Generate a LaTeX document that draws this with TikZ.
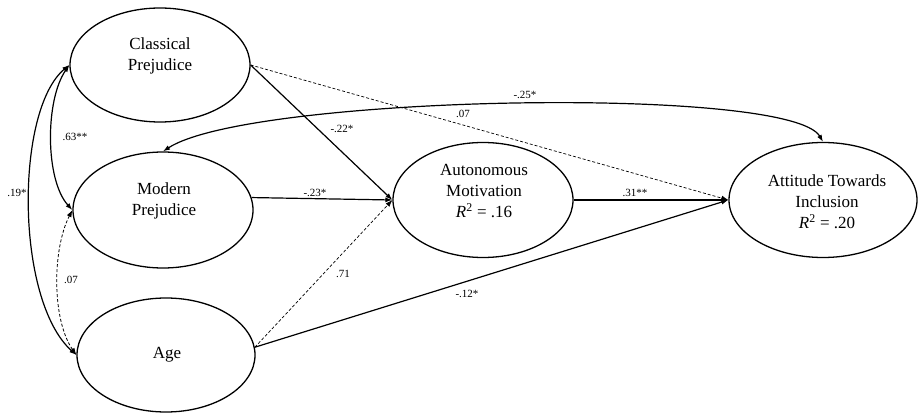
\documentclass[tikz,border=0pt]{standalone}
\usepackage{fontspec}
\setmainfont{Liberation Serif}
\usetikzlibrary{shapes.geometric,arrows.meta}
\begin{document}
\begin{tikzpicture}[x=1pt,y=-1pt,
  lat/.style={draw, ellipse, line width=1.3pt, inner sep=0pt},
  ttl/.style={font=\fontsize{17}{21}\selectfont, align=center, inner sep=0pt},
  coef/.style={font=\fontsize{11}{13}\selectfont, inner sep=0pt},
  tip/.tip={Latex[length=7pt,width=5pt]},
  pathsolid/.style={line width=1.2pt, -tip},
  pathdash/.style={line width=0.7pt, dash pattern=on 3pt off 2pt, -tip},
  covsolid/.style={line width=1.2pt, tip-tip},
  covdash/.style={line width=0.8pt, dash pattern=on 3pt off 2pt, tip-tip}]
\useasboundingbox (0,0) rectangle (918,414);
\fill[white] (0,0) rectangle (918,414);

% latent ellipses
\node[lat, minimum width=180pt, minimum height=114pt] (cp) at (160,65) {};
\node[lat, minimum width=180pt, minimum height=116pt] (mp) at (163,210) {};
\node[lat, minimum width=178pt, minimum height=114pt] (age) at (166,355) {};
\node[lat, minimum width=180pt, minimum height=115pt] (am) at (483,200) {};
\node[lat, minimum width=188pt, minimum height=115pt] (att) at (823,200) {};

% titles
\node[ttl] (cpt) at (160,56) {Classical\\Prejudice};
\node[ttl] (mpt) at (164,201) {Modern\\Prejudice};
\node[ttl] (aget) at (167,355) {Age};
\node[ttl] (amt) at (484,191) {Autonomous\\Motivation\\\textit{R}\textsuperscript{2} = .16};
\node[ttl] (attt) at (827,202) {Attitude Towards\\Inclusion\\\textit{R}\textsuperscript{2} = .20};

% directed paths
\draw[pathdash] (cp.east) -- (att.west);
\draw[pathsolid] (cp.east) -- (am.west);
\draw[pathsolid] (mp.8) -- (am.west);
\draw[pathdash] (age.5) -- (am.west);
\draw[pathsolid] (age.5) -- (att.west);
\draw[pathsolid] (am.east) -- (att.west);

% covariances
\draw[covsolid] (mp.north) .. controls (250,95) and (790,85) .. (att.north);
\draw[covsolid] (cp.west) .. controls (45,100) and (45,180) .. (mp.west);
\draw[covsolid] (cp.west) .. controls (15,110) and (15,300) .. (age.west);
\draw[covdash] (mp.west) .. controls (52,250) and (52,320) .. (age.west);

% coefficients
\node[coef] (c19) at (17,193) {.19*};
\node[coef] (c63) at (75,137) {.63**};
\node[coef] (c07a) at (71,280) {.07};
\node[coef] (c22) at (342,129) {-.22*};
\node[coef] (c25) at (525,95) {-.25*};
\node[coef] (c07b) at (463,114) {.07};
\node[coef] (c23) at (315,193) {-.23*};
\node[coef] (c31) at (635,193) {.31**};
\node[coef] (c71) at (343,274) {.71};
\node[coef] (c12) at (467,294) {-.12*};
\end{tikzpicture}
\end{document}
